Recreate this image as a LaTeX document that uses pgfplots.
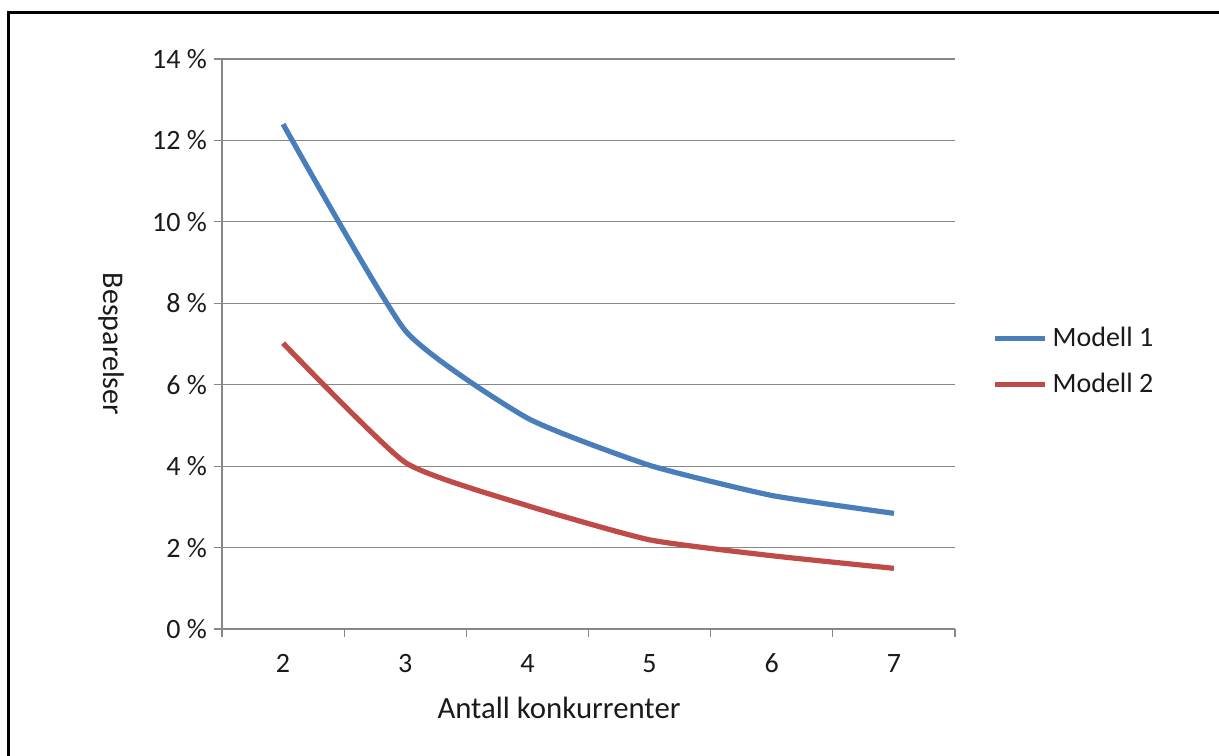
\documentclass[border=0pt]{standalone}
\usepackage{fontspec}
\setmainfont{Carlito}
\usepackage{pgfplots}
\pgfplotsset{compat=1.18}
\definecolor{mone}{HTML}{4A7EBB}
\definecolor{mtwo}{HTML}{BE4B48}
\definecolor{gridc}{HTML}{878787}
\definecolor{txt}{HTML}{1A1A1A}
\begin{document}
\begin{tikzpicture}[font=\fontsize{14pt}{17pt}\selectfont]
\useasboundingbox (0,0) rectangle (609.5pt,377.5pt);
\draw[line width=1.5pt] (4.25pt,-5pt) -- (4.25pt,371.25pt) -- (615pt,371.25pt);
\begin{axis}[
  at={(111pt,63pt)}, anchor=south west,
  scale only axis, width=366.5pt, height=285pt,
  xmin=1.5, xmax=7.5, ymin=0, ymax=14,
  axis x line*=bottom, axis y line*=left,
  axis line style={gridc, line width=0.6pt},
  every tick/.style={gridc, line width=0.6pt},
  tick align=outside, major tick length=4pt,
  xtick={1.5,2.5,...,7.5},
  xticklabels={2,3,4,5,6,7,{}},
  xticklabel style={xshift=30.54pt, yshift=-5pt, text=txt},
  ytick={0,2,...,14},
  yticklabels={0 \%,2 \%,4 \%,6 \%,8 \%,10 \%,12 \%,14 \%},
  yticklabel style={text=txt},
  ymajorgrids, grid style={gridc, line width=0.6pt},
  xlabel={Antall konkurrenter},
  xlabel style={at={(axis description cs:0.4598,-0.1386)}, anchor=center, text=txt,
    font=\fontsize{15.4pt}{18pt}\selectfont},
  ylabel={Besparelser},
  ylabel style={at={(axis description cs:-0.1508,0.5)}, anchor=center, rotate=180, text=txt,
    font=\fontsize{15pt}{18pt}\selectfont},
  legend style={draw=none, fill=none, at={(axis description cs:1.0505,0.4695)}, anchor=west,
    row sep=12pt, inner sep=0pt, nodes={inner sep=0pt, anchor=west, text=txt}},
  legend cell align=left,
  legend image code/.code={\draw[#1] (0pt,0pt) -- (25pt,0pt);},
  legend style={column sep=2.5pt},
]
\addplot[mone, line width=2.6pt, smooth, tension=0.3] coordinates {
  (2,12.4) (3,7.33) (4,5.18) (5,4.02) (6,3.28) (7,2.84)};
\addlegendentry{Modell 1}
\addplot[mtwo, line width=2.6pt, smooth, tension=0.3] coordinates {
  (2,7.02) (3,4.09) (4,3.03) (5,2.19) (6,1.80) (7,1.49)};
\addlegendentry{Modell 2}
\end{axis}
\end{tikzpicture}
\end{document}
